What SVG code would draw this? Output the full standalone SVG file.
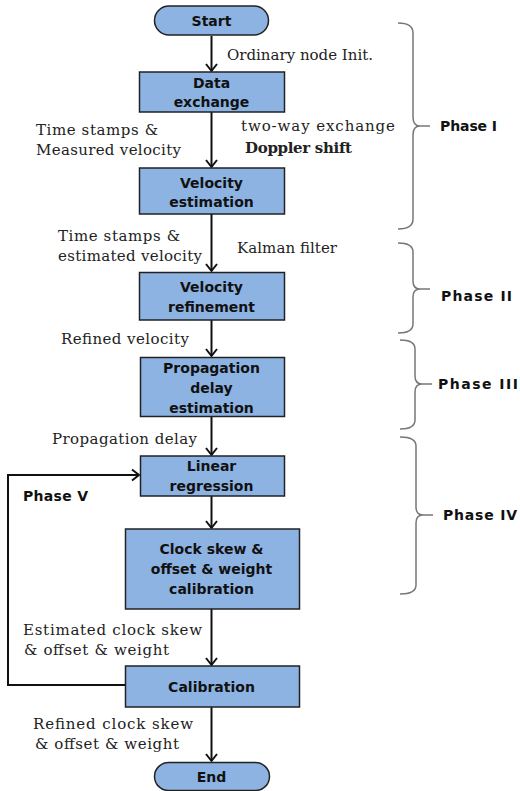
<svg xmlns="http://www.w3.org/2000/svg" width="520" height="791" viewBox="0 0 520 791">
<style>
.box{fill:#8db3e2;stroke:#222;stroke-width:1.5}
.nt{font-family:"DejaVu Sans",sans-serif;font-weight:bold;font-size:14px;fill:#111;text-anchor:middle}
.lb{font-family:"DejaVu Serif",serif;font-size:15px;fill:#222}
.ph{font-family:"DejaVu Sans",sans-serif;font-weight:bold;font-size:14px;fill:#111}
.br{fill:none;stroke:#777;stroke-width:1.5}
.cn{fill:none;stroke:#111;stroke-width:2;marker-end:url(#arr)}
</style>
<defs>
<marker id="arr" markerUnits="userSpaceOnUse" markerWidth="20" markerHeight="20" refX="0" refY="0" orient="auto" overflow="visible">
<path d="M-7,-5.5 L0,0 L-7,5.5" fill="none" stroke="#111" stroke-width="2"/>
</marker>
</defs>
<g id="connectors">
<line class="cn" x1="211.5" y1="36" x2="211.5" y2="71"/>
<line class="cn" x1="211.5" y1="112" x2="211.5" y2="167"/>
<line class="cn" x1="211.5" y1="214" x2="211.5" y2="271"/>
<line class="cn" x1="211.5" y1="320" x2="211.5" y2="356"/>
<line class="cn" x1="211.5" y1="417" x2="211.5" y2="455"/>
<line class="cn" x1="211.5" y1="496" x2="211.5" y2="528"/>
<line class="cn" x1="211.5" y1="609" x2="211.5" y2="665"/>
<line class="cn" x1="211.5" y1="707" x2="211.5" y2="761"/>
<path class="cn" d="M125,685 H8 V475 H139"/>
</g>
<g id="start"><rect class="box" x="154.5" y="6" width="114" height="29" rx="14.5"/><text class="nt" x="211.5" y="26">Start</text></g>
<g id="data-exchange"><rect class="box" x="139.5" y="72" width="145" height="40"/><text class="nt" x="211.5" y="88">Data</text><text class="nt" x="211.5" y="107">exchange</text></g>
<g id="velocity-estimation"><rect class="box" x="139.5" y="168" width="145" height="46"/><text class="nt" x="211.5" y="188">Velocity</text><text class="nt" x="211.5" y="207">estimation</text></g>
<g id="velocity-refinement"><rect class="box" x="139.5" y="272.5" width="145" height="47.5"/><text class="nt" x="211.5" y="292">Velocity</text><text class="nt" x="211.5" y="312">refinement</text></g>
<g id="propagation-delay"><rect class="box" x="140.5" y="357.5" width="144" height="59"/><text class="nt" x="211.5" y="373">Propagation</text><text class="nt" x="211.5" y="393">delay</text><text class="nt" x="211.5" y="413">estimation</text></g>
<g id="linear-regression"><rect class="box" x="140.5" y="456" width="144" height="40"/><text class="nt" x="211.5" y="471">Linear</text><text class="nt" x="211.5" y="491">regression</text></g>
<g id="clock-calibration"><rect class="box" x="125.5" y="529" width="174" height="80"/><text class="nt" x="211.5" y="554">Clock skew &amp;</text><text class="nt" x="211.5" y="574">offset &amp; weight</text><text class="nt" x="211.5" y="594">calibration</text></g>
<g id="calibration"><rect class="box" x="125.5" y="666" width="174" height="41"/><text class="nt" x="211.5" y="692">Calibration</text></g>
<g id="end"><rect class="box" x="154.5" y="762.5" width="115" height="28" rx="14"/><text class="nt" x="211.5" y="782">End</text></g>
<g id="labels">
<text class="lb" x="227" y="60" textLength="146" lengthAdjust="spacing">Ordinary node Init.</text>
<text class="lb" x="36" y="135" textLength="122" lengthAdjust="spacing">Time stamps &amp;</text>
<text class="lb" x="36" y="155" textLength="145" lengthAdjust="spacing">Measured velocity</text>
<text class="lb" x="241" y="131" textLength="154" lengthAdjust="spacing">two-way exchange</text>
<text class="lb" x="245" y="153" font-weight="bold" textLength="107" lengthAdjust="spacing">Doppler shift</text>
<text class="lb" x="58" y="241" textLength="122" lengthAdjust="spacing">Time stamps &amp;</text>
<text class="lb" x="58" y="261" textLength="144" lengthAdjust="spacing">estimated velocity</text>
<text class="lb" x="237" y="253" textLength="100" lengthAdjust="spacing">Kalman filter</text>
<text class="lb" x="61" y="344" textLength="128" lengthAdjust="spacing">Refined velocity</text>
<text class="lb" x="52" y="444" textLength="145" lengthAdjust="spacing">Propagation delay</text>
<text class="lb" x="23" y="635" textLength="179" lengthAdjust="spacing">Estimated clock skew</text>
<text class="lb" x="24" y="655" textLength="145" lengthAdjust="spacing">&amp; offset &amp; weight</text>
<text class="lb" x="33" y="729" textLength="160" lengthAdjust="spacing">Refined clock skew</text>
<text class="lb" x="35" y="749" textLength="144" lengthAdjust="spacing">&amp; offset &amp; weight</text>
</g>
<g id="phases">
<path class="br" d="M398,23 Q413,23 413,33 L413,117 Q413,126 420,126 L430,126 M420,126 Q413,126 413,135 L413,219 Q413,229 398,229"/>
<text class="ph" x="440" y="131" textLength="57" lengthAdjust="spacing">Phase I</text>
<path class="br" d="M398,243 Q413,243 413,252 L413,281 Q413,289 420,289 L430,289 M420,289 Q413,289 413,297 L413,324 Q413,333 398,333"/>
<text class="ph" x="441" y="301" textLength="71" lengthAdjust="spacing">Phase II</text>
<path class="br" d="M400,340 Q415,340 415,349 L415,376 Q415,384 422,384 L432,384 M422,384 Q415,384 415,392 L415,420 Q415,429 400,429"/>
<text class="ph" x="438" y="389" textLength="80" lengthAdjust="spacing">Phase III</text>
<path class="br" d="M400,437 Q416,437 416,446 L416,507 Q416,515 423,515 L433,515 M423,515 Q416,515 416,523 L416,585 Q416,594 400,594"/>
<text class="ph" x="443" y="520" textLength="74" lengthAdjust="spacing">Phase IV</text>
<text class="ph" x="23" y="501" textLength="65" lengthAdjust="spacing">Phase V</text>
</g>
</svg>
